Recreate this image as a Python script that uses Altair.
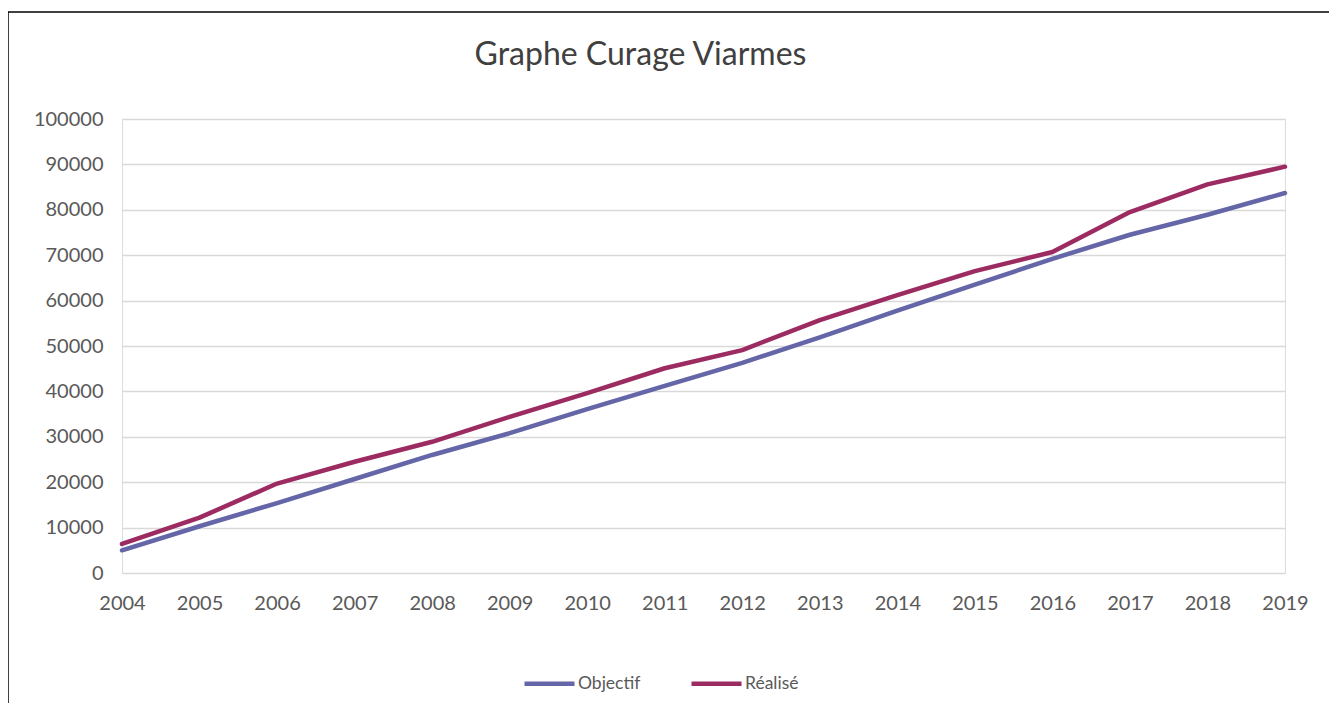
import altair as alt
import pandas as pd

years = list(range(2004, 2020))
objectif = [5000, 10300, 15400, 20700, 26000, 30800, 36100, 41200,
            46300, 51900, 57800, 63500, 69200, 74500, 78900, 83700]
realise = [6400, 12200, 19700, 24500, 28900, 34400, 39600, 45100,
           49100, 55700, 61200, 66500, 70700, 79500, 85600, 89500]
series_names = ["Objectif", "Réalisé"]
series_colors = ["#6466A8", "#9C2B61"]

rows = []
for y, o, r in zip(years, objectif, realise):
    rows.append({"Année": y, "Série": series_names[0], "Valeur": o})
    rows.append({"Année": y, "Série": series_names[1], "Valeur": r})
df = pd.DataFrame(rows)

FONT = "Lato"
W, H = 1163, 454
PL, PT, PR, PB = 114, 111, 44, 130

lines = alt.Chart(df).mark_line(strokeWidth=4.5, strokeCap="round", strokeJoin="round").encode(
    x=alt.X("Année:O", title=None,
            scale=alt.Scale(type="point", padding=0),
            axis=alt.Axis(labelAngle=0, grid=False, domain=False, ticks=False,
                          labelPadding=20, labelFontSize=20, labelColor="#595959",
                          labelFont=FONT)),
    y=alt.Y("Valeur:Q", title=None,
            scale=alt.Scale(domain=[0, 100000], nice=False),
            axis=alt.Axis(values=list(range(0, 100001, 10000)), format="d",
                          grid=True, gridColor="#D9D9D9", gridWidth=1.3,
                          domain=False, ticks=False, labelPadding=19,
                          labelFontSize=20, labelColor="#595959", labelFont=FONT)),
    color=alt.Color("Série:N",
                    scale=alt.Scale(domain=series_names, range=series_colors),
                    legend=alt.Legend(title=None, orient="none", direction="horizontal",
                                      legendX=400, legendY=537, symbolType="stroke",
                                      symbolSize=2500, symbolStrokeWidth=4.5,
                                      labelFontSize=17.5, labelColor="#595959",
                                      labelFont=FONT, labelOffset=1,
                                      columnPadding=41, padding=0)),
    order=alt.Order("Année:O"),
)

frame_top = alt.Chart().mark_rule(color="#000000", strokeWidth=1.5).encode(
    x=alt.value(-PL), x2=alt.value(W + PR), y=alt.value(-PT + 4))
frame_left = alt.Chart().mark_rule(color="#000000", strokeWidth=1.5).encode(
    x=alt.value(-PL), y=alt.value(-PT + 4), y2=alt.value(H + PB))

chart = alt.layer(lines, frame_top, frame_left).properties(
    width=W, height=H,
    title=alt.TitleParams("Graphe Curage Viarmes", fontSize=32, font=FONT,
                          fontWeight="normal", color="#404040", anchor="middle",
                          frame="group", baseline="middle", offset=-76, dx=-63),
    padding={"left": PL, "top": PT, "right": PR, "bottom": PB},
    autosize=alt.AutoSizeParams(type="none"),
).configure_view(stroke=None).configure(background="white")

chart.save("out.html", embed_options={"renderer": "svg", "actions": False})
